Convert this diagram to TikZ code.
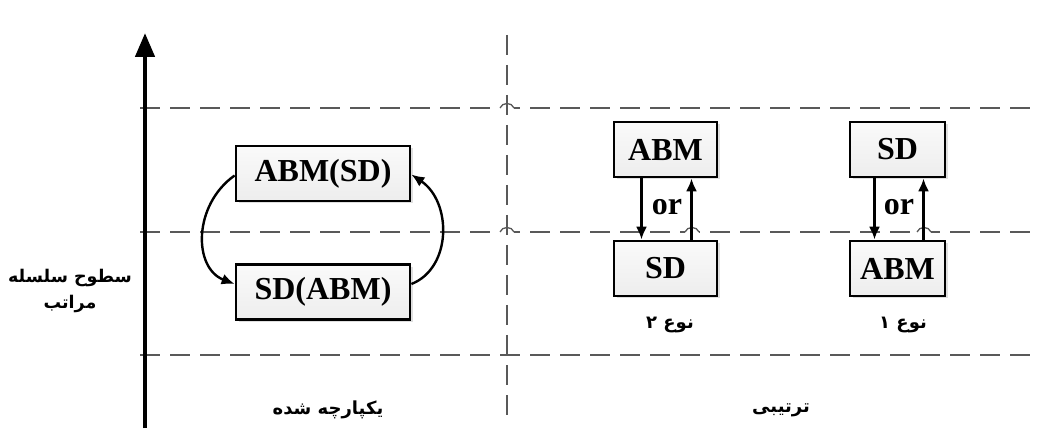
\documentclass[tikz,border=0pt]{standalone}
\usepackage{fontspec}
\setmainfont{Liberation Serif}
\newfontfamily\fa[Script=Arabic]{DejaVu Sans}
\TeXXeTstate=1
\usetikzlibrary{arrows.meta,shadows}
\begin{document}
\begin{tikzpicture}[x=1pt,y=-1pt,
  box/.style={draw=black,line width=2.8pt,top color=gray!4,bottom color=gray!14,inner sep=0pt,
    drop shadow={shadow xshift=2.5pt,shadow yshift=-2.5pt,opacity=0.25},
    font=\fontsize{32}{36}\selectfont\bfseries},
  grid/.style={dashed,dash pattern=on 20pt off 10pt,line width=1.3pt,draw=black!65},
  arr/.style={line width=2.4pt,-{Latex[length=13pt,width=11pt]}},
  fatext/.style={font=\fa\fontsize{18}{26}\selectfont\bfseries,align=center},
  ortext/.style={font=\fontsize{32}{36}\selectfont\bfseries},
  hop/.style={line width=1.3pt,draw=black!65}]
\useasboundingbox (0,0) rectangle (1039,430);
% horizontal dashed levels
\foreach \yy in {108,232,355}{\draw[grid] (140,\yy) -- (1039,\yy);}
% hops
\foreach \xx/\yy in {507/108,507/232,692/232,924/232}{
  \fill[white] (\xx-7,\yy-1.5) rectangle (\xx+7,\yy+1.5);
  \draw[hop] (\xx-7,\yy) .. controls (\xx-5,\yy-6) and (\xx+5,\yy-6) .. (\xx+7,\yy);}
% vertical dashed separator
\coordinate (vt) at (507,35);
\coordinate (vb) at (507,418);
\draw[grid] (vt) -- (vb);
% axis
\coordinate (ab) at (145,428);
\coordinate (at) at (145,33);
\draw[line width=4.5pt,-{Triangle[length=24pt,width=19pt]}] (ab) -- (at);
\node[fatext,font=\fa\fontsize{17.5}{26}\selectfont\bfseries] (lab) at (70,291) {\beginR سطوح سلسله\endR\\\beginR مراتب\endR};
% integrated
\node[box,minimum width=174pt,minimum height=55pt] (i1) at (323,173.5) {ABM(SD)};
\node[box,minimum width=174pt,minimum height=55pt] (i2) at (323,292) {SD(ABM)};
\draw[arr] ([yshift=-2pt]i1.west) .. controls (193,205) and (193,268) .. ([yshift=8pt]i2.west);
\draw[arr] ([yshift=8pt]i2.east) .. controls (452,268) and (452,202) .. ([yshift=-1pt]i1.east);
% type 2
\node[box,minimum width=103pt,minimum height=55pt] (a2) at (665.5,149.5) {ABM};
\node[box,minimum width=103pt,minimum height=55pt] (s2) at (665.5,268.5) {SD};
\draw[arr] ([xshift=-24pt]a2.south) -- ([xshift=-24pt]s2.north);
\draw[arr] ([xshift=26pt]s2.north) -- ([xshift=26pt]a2.south);
\node[ortext] (or2) at (667,207) {or};
\node[fatext] (t2) at (670,325) {\beginR نوع ۲\endR};
% type 1
\node[box,minimum width=95pt,minimum height=55pt] (s1) at (897.5,149.5) {SD};
\node[box,minimum width=95pt,minimum height=55pt] (a1) at (897.5,268.5) {ABM};
\draw[arr] ([xshift=-23pt]s1.south) -- ([xshift=-23pt]a1.north);
\draw[arr] ([xshift=26pt]a1.north) -- ([xshift=26pt]s1.south);
\node[ortext] (or1) at (899,207) {or};
\node[fatext] (t1) at (903,325) {\beginR نوع ۱\endR};
% bottom labels
\node[fatext] (c1) at (328,410) {\beginR یکپارچه شده\endR};
\node[fatext] (c2) at (781,410) {\beginR ترتیبی\endR};
\end{tikzpicture}
\end{document}
